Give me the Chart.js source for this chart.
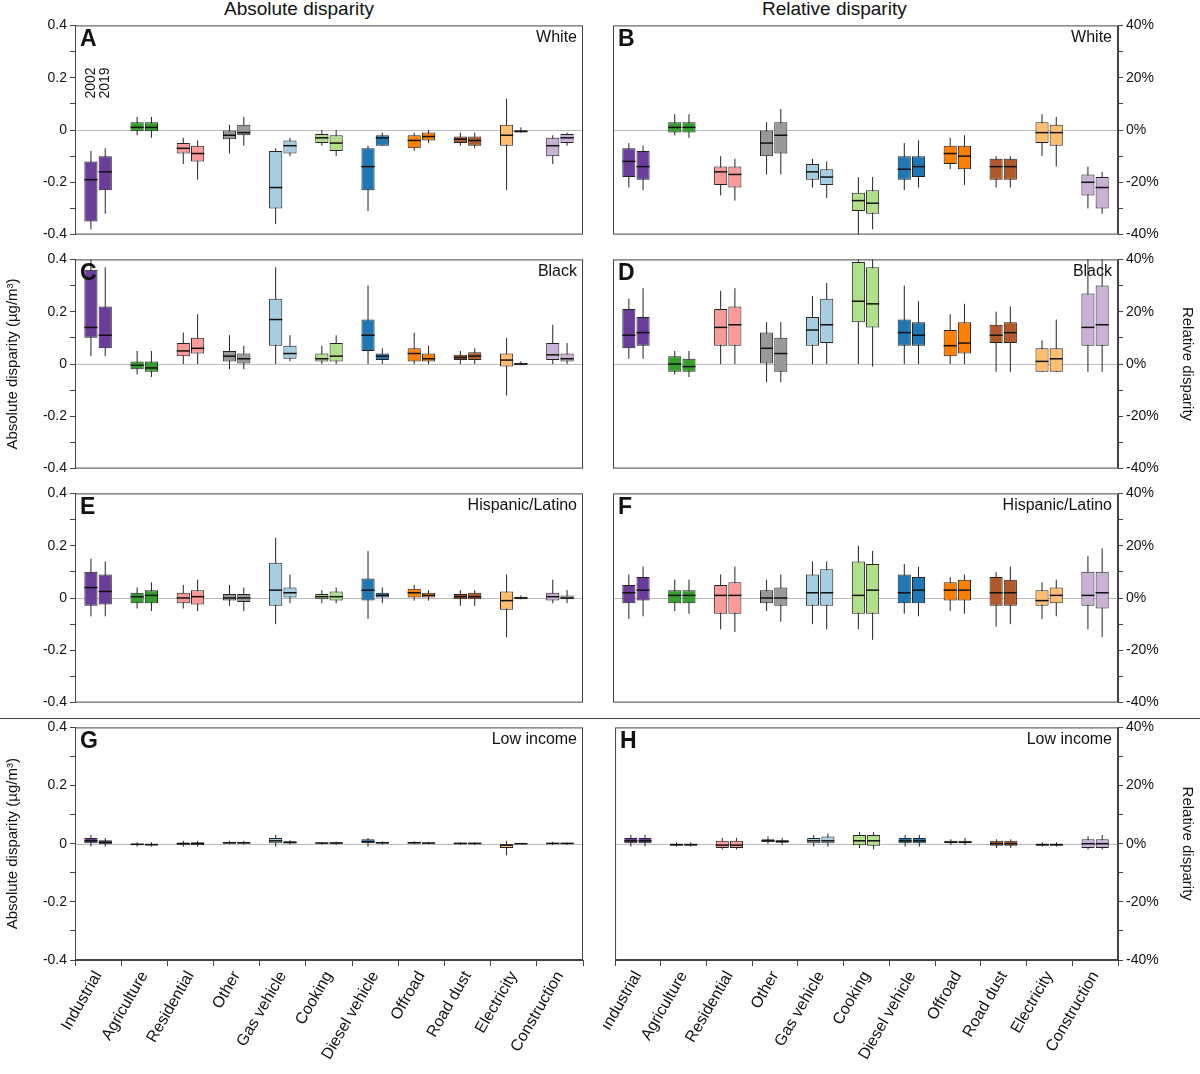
<!DOCTYPE html>
<html>
<head>
<meta charset="utf-8">
<script src="https://cdn.jsdelivr.net/npm/chart.js@4.4.1/dist/chart.umd.min.js"></script>
<style>
  body { margin: 0; background: #fff; font-family: Arial, "Liberation Sans", sans-serif; }
  #wrap { position: relative; width: 1200px; height: 1074px; }
  canvas { position: absolute; }
  .head { position: absolute; top: -2px; font-size: 19px; color: #111; }
  #sep { position: absolute; left: 0; top: 718px; width: 1200px; height: 1px; background: #444; }
</style>
</head>
<body>
<div id="wrap">
  <div class="head" style="left:224px">Absolute disparity</div>
  <div class="head" style="left:762px">Relative disparity</div>
  <div id="sep"></div>
</div>
<script>
// box = [low whisker, q1, median, q3, high whisker]
const categories = ['Industrial', 'Agriculture', 'Residential', 'Other', 'Gas vehicle', 'Cooking',
  'Diesel vehicle', 'Offroad', 'Road dust', 'Electricity', 'Construction'];
const colors = ['#6a3d9a', '#33a02c', '#fb9a99', '#999999', '#a6cee3', '#b2df8a',
  '#1f78b4', '#ff7f00', '#b15928', '#fdbf6f', '#cab2d6'];
const years = ['2002', '2019'];

const whiteAbs2002 = [[-0.38,-0.35,-0.19,-0.12,-0.08],[-0.02,-0.005,0.01,0.03,0.05],[-0.13,-0.09,-0.07,-0.05,-0.03],[-0.09,-0.035,-0.02,0,0.02],[-0.36,-0.30,-0.22,-0.08,-0.07],[-0.06,-0.05,-0.03,-0.015,0],[-0.31,-0.23,-0.14,-0.07,-0.06],[-0.08,-0.07,-0.04,-0.02,-0.01],[-0.06,-0.05,-0.035,-0.025,-0.01],[-0.23,-0.06,-0.02,0.02,0.12],[-0.13,-0.1,-0.06,-0.03,-0.02]];
const whiteAbs2019 = [[-0.32,-0.23,-0.16,-0.10,-0.07],[-0.03,-0.005,0.01,0.03,0.05],[-0.19,-0.12,-0.09,-0.06,-0.04],[-0.06,-0.02,-0.01,0.02,0.05],[-0.10,-0.09,-0.06,-0.04,-0.03],[-0.1,-0.08,-0.05,-0.02,0],[-0.06,-0.06,-0.03,-0.02,-0.01],[-0.05,-0.04,-0.025,-0.01,0],[-0.07,-0.06,-0.04,-0.025,-0.01],[-0.01,-0.01,-0.005,0,0.01],[-0.06,-0.05,-0.03,-0.015,-0.01]];
const whiteRel2002 = [[-22,-18,-12,-7,-5],[-2,-1,1,3,6],[-25,-21,-16,-14,-10],[-17,-10,-5,0,3],[-22,-19,-16,-13,-11],[-40,-31,-27,-24,-18],[-23,-19,-15,-10,-5],[-15,-13,-9,-6,-3],[-22,-19,-14,-11,-10],[-10,-5,-1,3,6],[-30,-25,-20,-17,-14]];
const whiteRel2019 = [[-23,-19,-14,-8,-6],[-3,-1,1,3,6],[-27,-22,-17,-14,-11],[-17,-9,-2,3,8],[-26,-21,-18,-15,-12],[-38,-32,-28,-23,-18],[-22,-18,-14,-10,-4],[-21,-15,-10,-6,-2],[-22,-19,-14,-11,-10],[-14,-6,-1,2,5],[-32,-30,-22,-18,-16]];

const blackAbs2002 = [[0.03,0.1,0.14,0.36,0.4],[-0.04,-0.02,-0.005,0.01,0.05],[0,0.03,0.05,0.08,0.12],[-0.02,0.01,0.03,0.05,0.11],[0,0.07,0.17,0.25,0.37],[0,0.01,0.02,0.04,0.07],[0,0.05,0.11,0.17,0.3],[0,0.01,0.04,0.06,0.12],[0,0.015,0.025,0.035,0.05],[-0.12,-0.01,0.015,0.04,0.1],[0,0.015,0.035,0.08,0.15]];
const blackAbs2019 = [[0.03,0.06,0.11,0.22,0.37],[-0.05,-0.03,-0.015,0.01,0.05],[0,0.04,0.06,0.1,0.19],[-0.02,0,0.02,0.04,0.07],[0.01,0.02,0.04,0.07,0.11],[0,0.01,0.03,0.08,0.11],[0,0.015,0.03,0.04,0.06],[0,0.01,0.02,0.04,0.07],[0,0.015,0.03,0.045,0.06],[-0.005,-0.005,0,0.005,0.01],[0,0.01,0.02,0.04,0.08]];
const blackRel2002 = [[2,6,11,21,25],[-4,-3,0,3,5],[0,7,14,21,28],[-7,0,6,12,16],[0,7,13,18,26],[0,16,24,39,40],[0,7,12,17,30],[0,3,7,13,19],[-3,8,11,15,20],[-3,-3,1,6,9],[-3,7,14,27,40]];
const blackRel2019 = [[2,7,12,18,29],[-5,-3,-1,2,5],[0,7,15,22,29],[-7,-3,4,10,16],[0,8,15,25,31],[-1,14,23,37,40],[0,7,11,16,24],[0,4,8,16,23],[-3,8,12,16,22],[-3,-3,2,6,17],[-3,7,15,30,40]];

const hispAbs2002 = [[-0.07,-0.03,0.04,0.1,0.15],[-0.04,-0.02,0.005,0.02,0.04],[-0.04,-0.02,0,0.02,0.05],[-0.03,-0.01,0,0.015,0.05],[-0.1,-0.03,0.03,0.135,0.23],[-0.02,-0.005,0.005,0.015,0.03],[-0.08,-0.01,0.03,0.075,0.18],[-0.01,0,0.02,0.035,0.05],[-0.03,-0.005,0.005,0.015,0.03],[-0.15,-0.045,-0.01,0.025,0.09],[-0.02,-0.01,0.005,0.02,0.07]];
const hispAbs2019 = [[-0.07,-0.025,0.025,0.09,0.14],[-0.05,-0.02,0.01,0.03,0.06],[-0.05,-0.025,0.005,0.03,0.07],[-0.05,-0.015,0,0.015,0.04],[-0.02,0,0.02,0.04,0.09],[-0.02,-0.01,0.005,0.025,0.04],[-0.02,0,0.01,0.02,0.04],[-0.01,0,0.01,0.02,0.03],[-0.03,-0.005,0.005,0.02,0.03],[-0.005,-0.005,0,0.005,0.01],[-0.02,-0.005,0,0.01,0.03]];
const hispRel2002 = [[-8,-2,2,5,9],[-5,-2,1,3,7],[-12,-6,1,5,9],[-5,-2,0,3,7],[-10,-3,2,9,14],[-12,-6,1,14,20],[-6,-2,2,9,13],[-5,-1,3,6,8],[-11,-3,2,8,10],[-8,-3,-1,3,6],[-12,-3,1,10,16]];
const hispRel2019 = [[-7,-1,3,8,12],[-6,-2,1,3,7],[-13,-6,1,6,12],[-9,-3,0,4,9],[-12,-3,2,11,14],[-16,-6,3,13,18],[-7,-2,3,8,12],[-6,-1,3,7,9],[-10,-3,2,7,12],[-7,-2,1,4,7],[-15,-4,2,10,19]];

const lowAbs2002 = [[-0.01,0,0.01,0.02,0.03],[-0.01,-0.005,-0.002,0,0.005],[-0.01,-0.004,0,0.004,0.01],[0,0.001,0.003,0.006,0.01],[-0.01,0,0.01,0.02,0.03],[-0.003,0,0.002,0.004,0.006],[-0.01,0,0.007,0.015,0.02],[-0.002,0,0.003,0.006,0.008],[-0.005,-0.002,0.001,0.003,0.005],[-0.04,-0.015,-0.005,0,0.01],[-0.005,-0.001,0.001,0.003,0.006]];
const lowAbs2019 = [[-0.01,-0.002,0.005,0.012,0.02],[-0.01,-0.006,-0.003,0,0.005],[-0.01,-0.005,0,0.005,0.01],[-0.002,0.001,0.003,0.005,0.01],[-0.003,0,0.004,0.008,0.012],[-0.003,0,0.002,0.005,0.007],[-0.003,0,0.003,0.006,0.008],[-0.002,0,0.002,0.004,0.006],[-0.005,-0.002,0.001,0.003,0.005],[-0.002,-0.001,0,0.001,0.002],[-0.004,-0.001,0.001,0.002,0.004]];
const lowRel2002 = [[-1,0,1,2,3],[-1,-0.7,-0.3,0,0.5],[-2,-1.5,-0.5,1,2],[0,0.5,1,1.5,2.5],[-1,0,1,2,3],[-1.5,-0.5,1,3,4],[-1,0,1,2,3],[-0.5,0,0.5,1,1.5],[-1.5,-0.7,0,1,1.5],[-1,-0.7,-0.3,0,0.5],[-2,-1.5,0,1.5,2.5]];
const lowRel2019 = [[-1,0,1,2,3],[-1,-0.7,-0.3,0,0.5],[-2,-1.5,-0.5,1,2],[-0.5,0.3,0.8,1.2,2],[-1,0,1,2.5,3.5],[-2,-0.7,1,3,4],[-1,0,1,2,3],[-0.5,0,0.5,1,2],[-1.5,-0.7,0,1,1.5],[-1,-0.7,-0.3,0,0.5],[-2,-1.5,0,1.5,3]];

const absTicks = [-0.4, -0.2, 0, 0.2, 0.4];
const relTicks = [-40, -20, 0, 20, 40];

const panels = [
  { letter: 'A', group: 'White', rel: false, top: 14, d: [whiteAbs2002, whiteAbs2019], years: true },
  { letter: 'B', group: 'White', rel: true, top: 14, d: [whiteRel2002, whiteRel2019] },
  { letter: 'C', group: 'Black', rel: false, top: 248, d: [blackAbs2002, blackAbs2019], title: true },
  { letter: 'D', group: 'Black', rel: true, top: 248, d: [blackRel2002, blackRel2019], title: true },
  { letter: 'E', group: 'Hispanic/Latino', rel: false, top: 482, d: [hispAbs2002, hispAbs2019] },
  { letter: 'F', group: 'Hispanic/Latino', rel: true, top: 482, d: [hispRel2002, hispRel2019] },
  { letter: 'G', group: 'Low income', rel: false, top: 716, d: [lowAbs2002, lowAbs2019], title: true, bottom: true },
  { letter: 'H', group: 'Low income', rel: true, top: 716, d: [lowRel2002, lowRel2019], title: true, bottom: true }
];

const boxPlugin = {
  id: 'boxes',
  beforeDatasetsDraw(chart) {
    const { ctx, chartArea: a, scales: { y } } = chart;
    ctx.save();
    ctx.strokeStyle = '#bbb'; ctx.lineWidth = 1;
    const z = Math.round(y.getPixelForValue(0)) + 0.5;
    ctx.beginPath(); ctx.moveTo(a.left, z); ctx.lineTo(a.right, z); ctx.stroke();
    ctx.strokeStyle = '#222';
    chart.data.datasets.forEach((ds, di) => {
      chart.getDatasetMeta(di).data.forEach((bar, i) => {
        const b = ds.boxes[i];
        ctx.beginPath();
        ctx.moveTo(bar.x, Math.max(a.top, y.getPixelForValue(b[4])));
        ctx.lineTo(bar.x, Math.min(a.bottom, y.getPixelForValue(b[0])));
        ctx.stroke();
      });
    });
    ctx.restore();
  },
  afterDatasetsDraw(chart, args, opts) {
    const { ctx, chartArea: a, scales: { y } } = chart;
    ctx.save();
    ctx.strokeStyle = '#111'; ctx.lineWidth = 1.5;
    chart.data.datasets.forEach((ds, di) => {
      chart.getDatasetMeta(di).data.forEach((bar, i) => {
        const m = y.getPixelForValue(ds.boxes[i][2]);
        ctx.beginPath(); ctx.moveTo(bar.x - bar.width / 2, m); ctx.lineTo(bar.x + bar.width / 2, m); ctx.stroke();
      });
    });
    ctx.lineWidth = 1; ctx.strokeStyle = '#444';
    ctx.strokeRect(a.left + 0.5, a.top + 0.5, a.width - 1, a.height - 1);
    ctx.fillStyle = '#111';
    ctx.font = 'bold 23px Arial, "Liberation Sans"';
    ctx.textBaseline = 'top';
    ctx.fillText(opts.letter, a.left + 5, a.top + 3);
    ctx.font = '16px Arial, "Liberation Sans"';
    ctx.textAlign = 'right';
    ctx.fillText(opts.group, a.right - 6, a.top + 4);
    if (opts.years) {
      ctx.font = '14px Arial, "Liberation Sans"';
      ctx.textAlign = 'left'; ctx.textBaseline = 'middle';
      chart.data.datasets.forEach((ds, di) => {
        const bar = chart.getDatasetMeta(di).data[0];
        ctx.save();
        ctx.translate(bar.x, y.getPixelForValue(0.12));
        ctx.rotate(-Math.PI / 2);
        ctx.fillText(ds.label, 0, 0);
        ctx.restore();
      });
    }
    ctx.restore();
  }
};

const wrap = document.getElementById('wrap');
panels.forEach(p => {
  const cv = document.createElement('canvas');
  const left = p.rel ? 603 : 0;
  const w = p.rel ? 597 : 590;
  const area = p.bottom ? 236 : 216;
  const h = 8 + area + (p.bottom ? 110 : 8);
  cv.style.left = left + 'px'; cv.style.top = p.top + 'px';
  cv.style.width = w + 'px'; cv.style.height = h + 'px';
  cv.width = w; cv.height = h;
  wrap.appendChild(cv);
  const major = p.rel ? relTicks : absTicks;
  new Chart(cv, {
    type: 'bar',
    data: {
      labels: categories,
      datasets: years.map((yr, k) => ({
        label: yr,
        boxes: p.d[k],
        data: p.d[k].map(b => [b[1], b[3]]),
        backgroundColor: colors,
        borderColor: '#222',
        borderWidth: 1,
        borderSkipped: false,
        categoryPercentage: 0.62,
        barPercentage: 0.92
      }))
    },
    options: {
      responsive: false,
      animation: false,
      events: [],
      layout: { padding: { top: 8, bottom: p.bottom ? 0 : 8, left: p.rel ? 10 : 0, right: p.rel ? 0 : 7 } },
      plugins: { legend: { display: false }, tooltip: { enabled: false },
        boxes: { letter: p.letter, group: p.group, years: !!p.years } },
      scales: {
        x: {
          display: !!p.bottom,
          grid: { drawOnChartArea: false, tickLength: 6, color: '#444' },
          border: { color: '#444' },
          ticks: { color: '#111', font: { size: 16 }, maxRotation: 60, minRotation: 60, padding: 2 },
          afterFit(s) { if (p.bottom) s.height = 110; }
        },
        y: {
          position: p.rel ? 'right' : 'left',
          min: major[0], max: major[4],
          grid: { drawOnChartArea: false, tickLength: 5, color: '#444' },
          border: { color: '#444' },
          ticks: {
            stepSize: p.rel ? 10 : 0.1,
            color: '#111', font: { size: 14 },
            callback(v) {
              const ok = major.some(t => Math.abs(t - v) < 1e-6);
              if (!ok) return '';
              if (p.rel) return Math.round(v) + '%';
              return Math.abs(v) < 1e-9 ? '0' : v.toFixed(1);
            }
          },
          title: { display: !!p.title, text: p.rel ? 'Relative disparity' : 'Absolute disparity (µg/m³)',
            color: '#111', font: { size: 15 } },
          afterFit(s) { s.width = p.rel ? 82 : 75; }
        }
      }
    },
    plugins: [boxPlugin]
  });
});
</script>
</body>
</html>
